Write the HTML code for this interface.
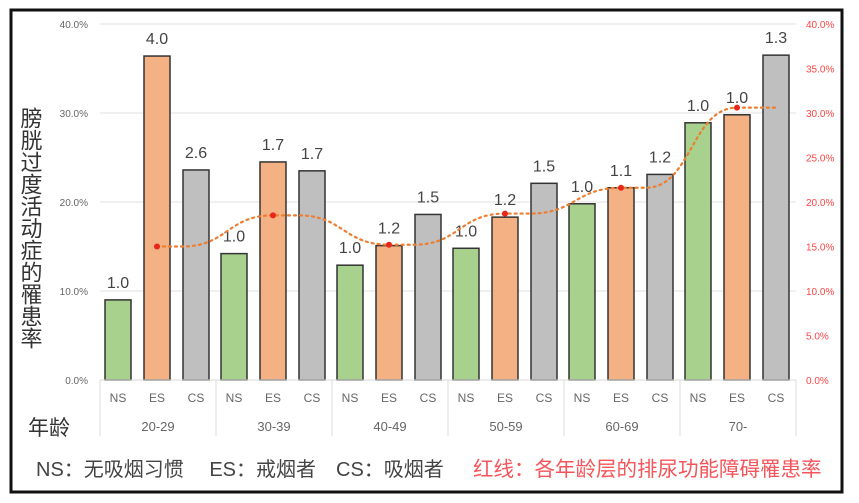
<!DOCTYPE html>
<html><head><meta charset="utf-8">
<style>
body{margin:0;background:#fff;}
svg{display:block;font-family:"Liberation Sans","Noto Sans CJK SC",sans-serif;}
</style></head>
<body>
<svg id="chart" width="859" height="503" viewBox="0 0 859 503" xmlns="http://www.w3.org/2000/svg">
<rect x="11" y="10" width="831" height="482" fill="#fff" stroke="#111" stroke-width="3"/>
<g id="grid"></g>
<g id="bars"></g>
<g id="line"></g>
<g id="axes"></g>
<text font-size="22" fill="#333" text-anchor="middle" style="writing-mode:vertical-rl" x="30" y="228">膀胱过度活动症的罹患率</text>
<text x="28" y="435" font-size="21" fill="#333">年龄</text>
<text x="36" y="476" font-size="20" fill="#444">NS：无吸烟习惯　 ES：戒烟者　CS：吸烟者</text>
<text x="473" y="476" font-size="20.5" fill="#f4555a">红线：各年龄层的排尿功能障碍罹患率</text>
</svg>
<script>
const groups=["20-29","30-39","40-49","50-59","60-69","70-"];
const types=["NS","ES","CS"];
const nsValues=[9.0,14.2,12.9,14.8,19.8,28.9];
const esValues=[36.4,24.5,15.1,18.3,21.6,29.8];
const csValues=[23.6,23.5,18.6,22.1,23.1,36.5];
const nsLabels=["1.0","1.0","1.0","1.0","1.0","1.0"];
const esLabels=["4.0","1.7","1.2","1.2","1.1","1.0"];
const csLabels=["2.6","1.7","1.5","1.5","1.2","1.3"];
const lineValues=[15.0,18.5,15.2,18.7,21.6,30.6];
const leftTicks=["0.0%","10.0%","20.0%","30.0%","40.0%"];
const rightTicks=["0.0%","5.0%","10.0%","15.0%","20.0%","25.0%","30.0%","35.0%","40.0%"];

const NS="http://www.w3.org/2000/svg";
const x0=100,gw=116,y0=380,yTop=24,maxV=40;
const yL=v=>y0-(v/maxV)*(y0-yTop);
const yR=v=>y0-(v/maxV)*(y0-yTop);
const xBar=(g,t)=>x0+g*gw+18+t*39;
function mk(tag,attrs,parent,text){const e=document.createElementNS(NS,tag);for(const k in attrs)e.setAttribute(k,attrs[k]);if(text!==undefined)e.textContent=text;document.getElementById(parent).appendChild(e);return e;}

leftTicks.forEach((t,i)=>{const v=i*10;const y=yL(v);
 if(v>0){const l=mk('line',{x1:x0,x2:796,y1:y,y2:y,stroke:'#e2e2e2','stroke-width':1},'grid');}
 const tx=mk('text',{x:88,y:y+4,'font-size':10,fill:'#666','text-anchor':'end'},'axes',t);
 });
rightTicks.forEach((t,i)=>{const y=yR(i*5);
 const tx=mk('text',{x:806,y:y+4,'font-size':10,fill:'#f44','text-anchor':'start'},'axes',t);
 });
const base=mk('line',{x1:x0,x2:796,y1:y0,y2:y0,stroke:'#d9d9d9'},'axes');

for(let g=0;g<=groups.length;g++){const x=x0+g*gw;
 const s=mk('line',{x1:x,x2:x,y1:y0,y2:436,stroke:'#ddd'},'axes');
 }
const fills=['#a9d18e','#f4b183','#bfbfbf'];
const series=[nsValues,esValues,csValues],labels=[nsLabels,esLabels,csLabels];
groups.forEach((gname,g)=>{
 const gl=mk('text',{x:x0+g*gw+gw/2,y:431,'font-size':13,fill:'#666','text-anchor':'middle'},'axes',gname);
 
 types.forEach((t,ti)=>{const xc=xBar(g,ti),v=series[ti][g];
  const r=mk('rect',{x:xc-13,y:yL(v),width:26,height:y0-yL(v),fill:fills[ti],stroke:'#333','stroke-width':1.5},'bars');
  
  const lb=mk('text',{x:xc,y:yL(v)-12,'font-size':16,fill:'#444','text-anchor':'middle'},'bars',labels[ti][g]);
  
  const tl=mk('text',{x:xc,y:402,'font-size':12,fill:'#666','text-anchor':'middle'},'axes',t);
  
 });
});
let d='';
lineValues.forEach((v,g)=>{const xe=xBar(g,1),xc=xBar(g,2)-14,y=yR(v);
 if(g===0)d+=`M${xe},${y} L${xc},${y}`;
 else{const px=xBar(g-1,2)-14,py=yR(lineValues[g-1]);const m=(px+xe)/2;d+=` C${m},${py} ${m},${y} ${xe},${y} L${xc},${y}`;}
});
const lastX=xBar(5,2);d+=` L${lastX},${yR(lineValues[5])}`;
const p=mk('path',{d:d,fill:'none',stroke:'#ed7d31','stroke-width':2.2,'stroke-dasharray':'2 4','stroke-linecap':'round'},'line');

lineValues.forEach((v,g)=>{const c=mk('circle',{cx:xBar(g,1),cy:yR(v),r:3,fill:'#e8261a'},'line');
 });
</script>
</body></html>
